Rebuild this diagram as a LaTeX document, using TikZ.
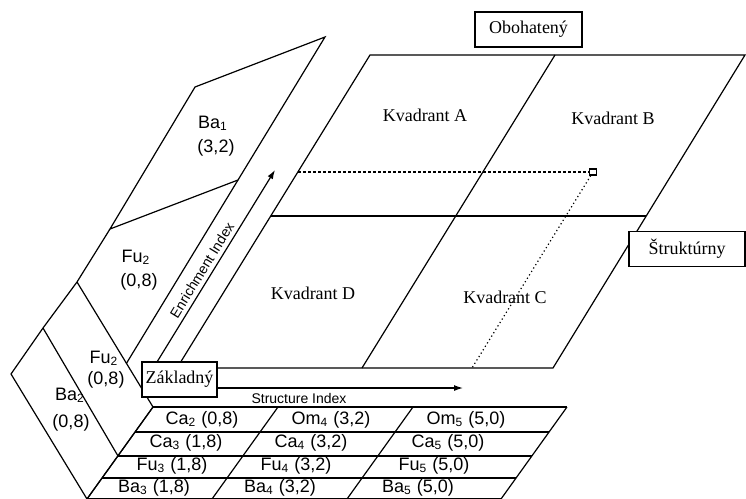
\documentclass[tikz,border=0pt]{standalone}
\usepackage{fontspec}
\setmainfont{Liberation Serif}
\setsansfont{Liberation Sans}
\usetikzlibrary{arrows.meta}

\begin{document}
\begin{tikzpicture}[x=0.5pt, y=-0.5pt, line width=0.6pt, >={Latex[length=4.5pt,width=3pt]},
	every node/.style={font=\fontsize{9}{10}\selectfont},
	celltext/.style={font=\sffamily\fontsize{9}{10}\selectfont, inner sep=0pt},
	axislabel/.style={font=\sffamily\fontsize{7}{8}\selectfont, inner sep=0pt},
	tagbox/.style={draw, fill=white, minimum height=17.5pt, inner sep=0pt}]
	\useasboundingbox (0,0) rectangle (746,499);
	% quadrant board
	\coordinate (tl) at (370,55);
	\coordinate (tr) at (745,55);
	\coordinate (br) at (553,368);
	\coordinate (bl) at (177,368);
	\coordinate (mt) at (555,55);
	\coordinate (mb) at (362,368);
	\coordinate (ml) at (271,216);
	\coordinate (mr) at (646,216);
	\coordinate (dl) at (298,172);
	\coordinate (cb) at (472,368);
	\node[draw, minimum width=3.5pt, minimum height=3pt, inner sep=0pt] (pt) at (593,172) {};
	\draw (tl) -- (tr) -- (br) -- (bl) -- cycle;
	\draw (mt) -- (mb);
	\draw (ml) -- (mr);
	\draw[dash pattern=on 1.5pt off 1pt] (dl) -- (pt);
	\draw[dash pattern=on 0.6pt off 1.4pt] (pt) -- (cb);
	\node (qa) at (425,115) {Kvadrant A};
	\node (qb) at (613,118) {Kvadrant B};
	\node (qd) at (313,293) {Kvadrant D};
	\node (qc) at (505,297) {Kvadrant C};
	% folded side panels
	\coordinate (f1) at (195,87);
	\coordinate (f2) at (325,37);
	\coordinate (f3) at (238,180);
	\coordinate (f4) at (110,229);
	\coordinate (f5) at (77,282);
	\coordinate (f6) at (43,328);
	\coordinate (f7) at (11,374);
	\coordinate (f8) at (87,499);
	\coordinate (f9) at (153,407);
	\coordinate (f10) at (118,456);
	\coordinate (f11) at (intersection of f2--f3 and f5--f9);
	\draw (f4) -- (f1) -- (f2) -- (f3) -- cycle;
	\draw (f4) -- (f5) -- (f6) -- (f7) -- (f8);
	\draw (f5) -- (f9) -- (f8);
	\draw (f6) -- (f10);
	\draw (f3) -- (f11);
	\node[celltext] (ba1) at (213,123) {Ba\textsubscript{1}};
	\node[celltext] (ba1v) at (216,148) {(3,2)};
	\node[celltext] (fu2a) at (136,257) {Fu\textsubscript{2}};
	\node[celltext] (fu2av) at (139,282) {(0,8)};
	\node[celltext] (fu2b) at (104,358) {Fu\textsubscript{2}};
	\node[celltext] (fu2bv) at (106,380) {(0,8)};
	\node[celltext] (ba2) at (70,395) {Ba\textsubscript{2}};
	\node[celltext] (ba2v) at (71,423) {(0,8)};
	% index arrows
	\coordinate (ea) at (157,362);
	\coordinate (eb) at (275,170);
	\coordinate (sa) at (217,388);
	\coordinate (sb) at (463,388);
	\draw[->] (ea) -- (eb);
	\draw[->] (sa) -- (sb);
	\node[axislabel, rotate=58.4] (enr) at (202,270) {Enrichment Index};
	\node[axislabel] (sti) at (299,398) {Structure Index};
	% bottom table
	\foreach \y in {407,432,456,478,499}
		\draw ({153-0.717*(\y-407)},\y) -- ({567-0.717*(\y-407)},\y);
	\foreach \x in {153,278,413,567}
		\draw (\x,407) -- ({\x-66},499);
	\node[celltext] (c11) at (202,420) {Ca\textsubscript{2} (0,8)};
	\node[celltext] (c12) at (331,420) {Om\textsubscript{4} (3,2)};
	\node[celltext] (c13) at (466,420) {Om\textsubscript{5} (5,0)};
	\node[celltext] (c21) at (186,443) {Ca\textsubscript{3} (1,8)};
	\node[celltext] (c22) at (311,443) {Ca\textsubscript{4} (3,2)};
	\node[celltext] (c23) at (448,443) {Ca\textsubscript{5} (5,0)};
	\node[celltext] (c31) at (172,466) {Fu\textsubscript{3} (1,8)};
	\node[celltext] (c32) at (296,466) {Fu\textsubscript{4} (3,2)};
	\node[celltext] (c33) at (434,466) {Fu\textsubscript{5} (5,0)};
	\node[celltext] (c41) at (154,488) {Ba\textsubscript{3} (1,8)};
	\node[celltext] (c42) at (280,488) {Ba\textsubscript{4} (3,2)};
	\node[celltext] (c43) at (418,488) {Ba\textsubscript{5} (5,0)};
	% level boxes
	\node[tagbox, minimum width=53.5pt] (rich) at (528.5,29.5) {Obohatený};
	\node[tagbox, minimum width=58pt] (strc) at (687,249) {Štruktúrny};
	\node[tagbox, minimum width=37.5pt] (base) at (179.5,379.5) {Základný};
\end{tikzpicture}
\end{document}
